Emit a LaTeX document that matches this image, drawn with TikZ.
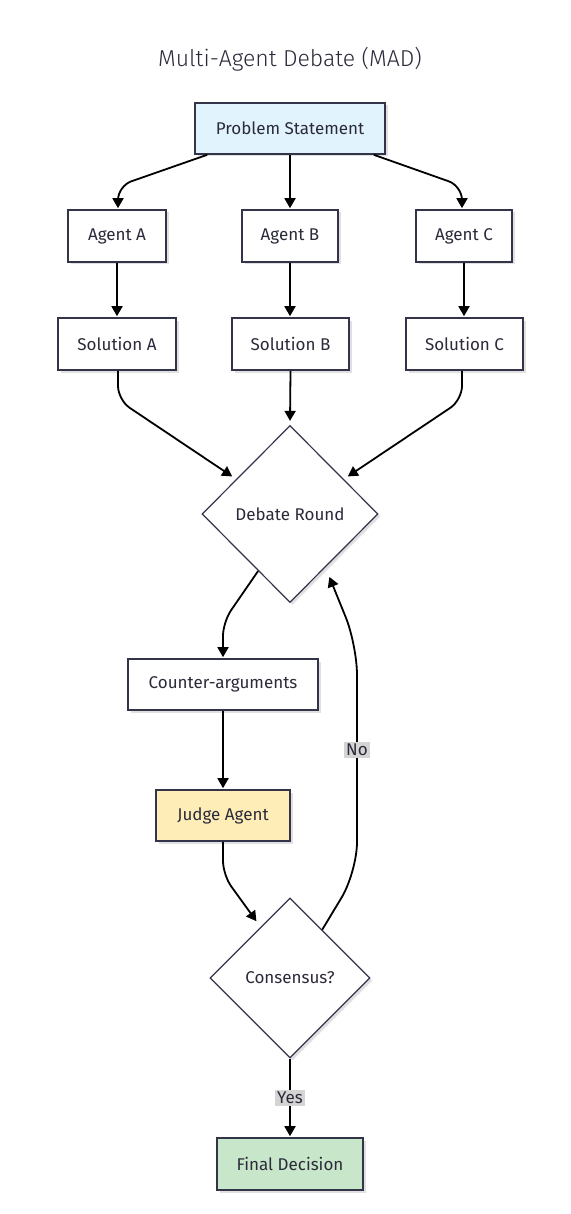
\documentclass[tikz,border=0pt]{standalone}
\usepackage{fontspec}
\setmainfont{Fira Sans}
\newfontfamily\titlefont{Fira Sans Light}
\usetikzlibrary{shapes.geometric,arrows.meta,calc,shadows}
\definecolor{bordc}{HTML}{33334A}
\definecolor{txtc}{HTML}{2A2A3A}
\definecolor{psfill}{HTML}{E1F3FD}
\definecolor{jfill}{HTML}{FFEDB8}
\definecolor{ffill}{HTML}{C8E6C9}
\definecolor{lblfill}{HTML}{D4D4D4}
\tikzset{
  box/.style={draw=bordc, line width=1.6pt, fill=white, rectangle, inner sep=0pt,
    text=txtc, font=\fontsize{17}{20}\selectfont,
    drop shadow={shadow xshift=2.5pt, shadow yshift=-2.5pt, opacity=0.12, fill=black}},
  dia/.style={draw=bordc, line width=1.2pt, fill=white, diamond, aspect=1, inner sep=0pt,
    text=txtc, font=\fontsize{17}{20}\selectfont,
    drop shadow={shadow xshift=2.5pt, shadow yshift=-2.5pt, opacity=0.12, fill=black}},
  conn/.style={draw=black, line width=1.8pt, -{Triangle[length=10pt,width=11pt]}, rounded corners=14pt, shorten >=1pt},
  lbl/.style={fill=lblfill, text=txtc, inner sep=2pt, font=\fontsize{17}{20}\selectfont},
}
\begin{document}
\begin{tikzpicture}[x=1pt,y=-1pt]
\useasboundingbox (0,0) rectangle (570,1214);
\fill[white] (0,0) rectangle (570,1214);
\node[text=txtc, font=\titlefont\fontsize{23}{27}\selectfont] (title) at (290,59) {Multi-Agent Debate (MAD)};

\node[box, fill=psfill, minimum width=190pt, minimum height=51pt] (ps) at (290,128.5) {Problem Statement};
\node[box, minimum width=98pt, minimum height=52pt] (aa) at (117,236) {Agent A};
\node[box, minimum width=96pt, minimum height=52pt] (ab) at (290,236) {Agent B};
\node[box, minimum width=96pt, minimum height=52pt] (ac) at (464,236) {Agent C};
\node[box, minimum width=118pt, minimum height=52pt] (sa) at (117,344) {Solution A};
\node[box, minimum width=117pt, minimum height=52pt] (sb) at (290.5,344) {Solution B};
\node[box, minimum width=117pt, minimum height=52pt] (sc) at (464.5,344) {Solution C};
\node[dia, minimum width=176pt, minimum height=177pt] (dr) at (290,514) {Debate Round};
\node[box, minimum width=190pt, minimum height=51pt] (ca) at (223,684.5) {Counter-arguments};
\node[box, fill=jfill, minimum width=134pt, minimum height=51pt] (ja) at (223,815.5) {Judge Agent};
\node[dia, minimum width=160pt, minimum height=160pt] (cs) at (290,978) {Consensus?};
\node[box, fill=ffill, minimum width=146pt, minimum height=52pt] (fd) at (290,1164) {Final Decision};

% edges
\coordinate (c1) at (118,186);
\coordinate (c3) at (462,186);
\draw[conn] ([xshift=13pt]ps.south west) -- (c1) -- (c1 |- aa.north);
\draw[conn] (ps.south) -- (ab.north);
\draw[conn] ([xshift=-12pt]ps.south east) -- (c3) -- (c3 |- ac.north);
\draw[conn] (aa.south) -- (sa.north -| aa.south);
\draw[conn] (ab.south) -- (sb.north -| ab.south);
\draw[conn] (ac.south) -- (sc.north -| ac.south);

\coordinate (d1) at (118,400);
\coordinate (d3) at (462,400);
\coordinate (ta) at (233,477);
\coordinate (tc) at (347,477);
\draw[conn] (sa.south -| d1) -- (d1) -- (ta);
\draw[conn] (sb.south) -- ([yshift=3pt]dr.north);
\draw[conn] (sc.south -| d3) -- (d3) -- (tc);

\coordinate (e1) at (223,622);
\draw[conn] ($(dr.west)!0.64!(dr.south)$) -- (e1) -- (ca.north);
\draw[conn] (ca.south) -- (ja.north);
\coordinate (f1) at (223,875);
\coordinate (tf) at (257,922);
\draw[conn] (ja.south) -- (f1) -- (tf);

\coordinate (n1) at (357,872);
\coordinate (n2) at (357,645);
\coordinate (tn) at (329,576);
\draw[conn, rounded corners=30pt] ($(cs.north)!0.4!(cs.east)$) -- (n1) -- (n2) -- (tn);
\node[lbl] (no) at (357,750) {No};

\draw[conn] (cs.south) -- (fd.north);
\node[lbl] (yes) at (290,1098) {Yes};
\end{tikzpicture}
\end{document}
